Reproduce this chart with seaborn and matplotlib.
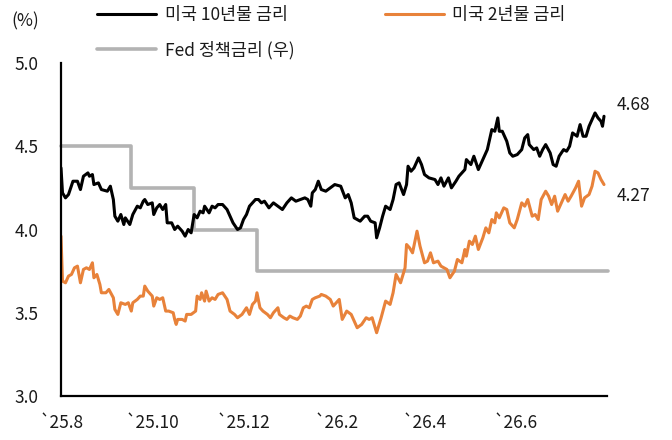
import numpy as np
import pandas as pd
import matplotlib
matplotlib.use('Agg')
import matplotlib.pyplot as plt
import seaborn as sns

# ---------------- data ----------------
start_date = '2025-08-01'

days_10y = [0, 1, 3, 5, 8, 11, 13, 15, 18, 19,
            21, 22, 25, 27, 31, 33, 35, 36, 38, 40,
            42, 43, 46, 48, 51, 53, 55, 56, 58, 61,
            62, 64, 66, 68, 70, 71, 74, 76, 78, 81,
            83, 85, 87, 89, 91, 93, 95, 96, 99, 101,
            103, 105, 108, 111, 113, 115, 118, 120, 122, 124,
            126, 130, 132, 134, 136, 139, 142, 145, 148, 151,
            154, 157, 160, 163, 165, 167, 168, 170, 172, 174,
            177, 180, 183, 187, 190, 192, 194, 196, 200, 203,
            205, 207, 210, 211, 213, 215, 217, 220, 222, 224,
            226, 229, 231, 232, 234, 236, 239, 241, 243, 246,
            250, 252, 254, 256, 259, 261, 264, 266, 270, 271,
            274, 276, 279, 282, 285, 288, 290, 292, 293, 295,
            298, 300, 302, 305, 308, 310, 312, 313, 316, 318,
            320, 322, 324, 327, 329, 331, 333, 336, 338, 340,
            342, 345, 347, 349, 351, 353, 357, 359, 361, 362,
            363]
yield_10y = [4.37, 4.22, 4.19, 4.21, 4.29, 4.29, 4.24, 4.32, 4.34, 4.32,
             4.33, 4.27, 4.28, 4.24, 4.23, 4.26, 4.18, 4.08, 4.05, 4.09,
             4.03, 4.07, 4.03, 4.09, 4.14, 4.13, 4.17, 4.18, 4.15, 4.16,
             4.09, 4.13, 4.15, 4.12, 4.15, 4.04, 4.04, 4.00, 4.02, 3.99,
             3.96, 4.00, 3.98, 4.09, 4.07, 4.11, 4.10, 4.14, 4.10, 4.14,
             4.13, 4.15, 4.15, 4.12, 4.08, 4.04, 4.00, 4.01, 4.06, 4.09,
             4.14, 4.18, 4.18, 4.16, 4.17, 4.13, 4.16, 4.14, 4.12, 4.16,
             4.19, 4.17, 4.18, 4.19, 4.18, 4.14, 4.22, 4.24, 4.29, 4.24,
             4.23, 4.25, 4.27, 4.26, 4.19, 4.21, 4.16, 4.07, 4.05, 4.08,
             4.08, 4.05, 4.04, 3.95, 4.01, 4.08, 4.14, 4.12, 4.18, 4.27,
             4.28, 4.21, 4.27, 4.38, 4.35, 4.37, 4.43, 4.39, 4.33, 4.31,
             4.30, 4.27, 4.31, 4.26, 4.31, 4.25, 4.29, 4.32, 4.36, 4.42,
             4.39, 4.44, 4.36, 4.42, 4.48, 4.60, 4.59, 4.67, 4.59, 4.59,
             4.53, 4.46, 4.44, 4.45, 4.48, 4.55, 4.57, 4.51, 4.48, 4.49,
             4.44, 4.48, 4.51, 4.46, 4.39, 4.38, 4.44, 4.48, 4.47, 4.50,
             4.58, 4.56, 4.63, 4.56, 4.56, 4.62, 4.70, 4.67, 4.65, 4.62,
             4.68]

days_2y = [0, 1, 3, 5, 7, 9, 11, 13, 15, 17,
           19, 21, 22, 24, 26, 27, 30, 32, 35, 36,
           38, 40, 43, 45, 47, 48, 51, 53, 55, 56,
           58, 61, 62, 64, 66, 68, 70, 72, 75, 76,
           77, 78, 81, 83, 84, 87, 90, 91, 93, 94,
           96, 97, 99, 101, 103, 105, 108, 111, 113, 116,
           118, 121, 124, 126, 128, 130, 131, 133, 135, 138,
           140, 142, 145, 146, 149, 151, 153, 155, 158, 160,
           162, 164, 166, 168, 170, 173, 174, 177, 180, 182,
           184, 186, 188, 191, 194, 196, 198, 201, 204, 206,
           208, 211, 214, 217, 220, 222, 224, 227, 230, 231,
           233, 235, 238, 240, 243, 245, 247, 249, 252, 254,
           258, 260, 263, 265, 268, 270, 271, 273, 275, 277,
           279, 282, 284, 286, 288, 290, 291, 293, 296, 298,
           300, 303, 305, 308, 310, 312, 315, 317, 319, 321,
           324, 326, 328, 330, 332, 335, 337, 339, 341, 344,
           346, 348, 350, 353, 355, 357, 359, 361, 363]
yield_2y = [3.96, 3.69, 3.68, 3.72, 3.73, 3.77, 3.78, 3.68, 3.76, 3.77,
            3.76, 3.80, 3.71, 3.73, 3.67, 3.62, 3.62, 3.64, 3.59, 3.52,
            3.49, 3.56, 3.55, 3.56, 3.51, 3.56, 3.58, 3.60, 3.60, 3.66,
            3.63, 3.60, 3.54, 3.59, 3.58, 3.59, 3.51, 3.51, 3.50, 3.46,
            3.43, 3.46, 3.46, 3.45, 3.49, 3.49, 3.51, 3.60, 3.58, 3.62,
            3.57, 3.63, 3.57, 3.59, 3.58, 3.61, 3.62, 3.58, 3.51, 3.49,
            3.47, 3.49, 3.53, 3.49, 3.55, 3.57, 3.62, 3.53, 3.51, 3.49,
            3.47, 3.50, 3.53, 3.49, 3.47, 3.46, 3.48, 3.47, 3.46, 3.48,
            3.53, 3.54, 3.53, 3.58, 3.59, 3.60, 3.61, 3.60, 3.58, 3.54,
            3.56, 3.58, 3.46, 3.51, 3.49, 3.45, 3.41, 3.43, 3.47, 3.46,
            3.47, 3.38, 3.47, 3.57, 3.55, 3.62, 3.73, 3.68, 3.77, 3.91,
            3.89, 3.86, 3.99, 3.90, 3.80, 3.81, 3.86, 3.80, 3.81, 3.78,
            3.76, 3.71, 3.75, 3.82, 3.80, 3.88, 3.84, 3.93, 3.91, 3.96,
            3.88, 3.95, 4.01, 3.98, 4.06, 4.04, 4.10, 4.07, 4.13, 4.12,
            4.04, 4.01, 4.06, 4.16, 4.14, 4.18, 4.08, 4.09, 4.06, 4.18,
            4.23, 4.20, 4.15, 4.20, 4.11, 4.17, 4.21, 4.17, 4.20, 4.25,
            4.29, 4.14, 4.19, 4.21, 4.26, 4.35, 4.34, 4.30, 4.27]

fed_dates = ['2025-08-01', '2025-09-17', '2025-10-29', '2025-12-10', '2026-08-02']
fed_rate = [4.50, 4.25, 4.00, 3.75, 3.75]

xtick_dates = ['2025-08-01', '2025-10-01', '2025-12-01', '2026-02-01',
               '2026-04-01', '2026-06-01', '2026-08-01']
xtick_labels = ['`25.8', '`25.10', '`25.12', '`26.2', '`26.4', '`26.6', '']
yticks = [3.0, 3.5, 4.0, 4.5, 5.0]

label_10y = '미국 10년물 금리'
label_2y = '미국 2년물 금리'
label_fed = 'Fed 정책금리 (우)'
unit_label = '(%)'

# ---------------- frames ----------------
t0 = pd.Timestamp(start_date)
df10 = pd.DataFrame({'date': t0 + pd.to_timedelta(days_10y, unit='D'), 'rate': yield_10y})
df2 = pd.DataFrame({'date': t0 + pd.to_timedelta(days_2y, unit='D'), 'rate': yield_2y})
dff = pd.DataFrame({'date': pd.to_datetime(fed_dates), 'rate': fed_rate})

# ---------------- style ----------------
sns.set_style('white')
plt.rcParams['font.family'] = ['Noto Sans CJK KR', 'DejaVu Sans']
plt.rcParams['text.color'] = '#1a1a1a'

FS = 12.5
C10 = '#000000'
C2 = '#E8823A'
CF = '#B3B3B3'

fig = plt.figure(figsize=(6.72, 4.4), dpi=100)
ax = fig.add_axes([61 / 672, 44 / 440, 546 / 672, 333 / 440])

sns.lineplot(data=dff, x='date', y='rate', ax=ax, color=CF, lw=2.6,
             drawstyle='steps-post', estimator=None, label=label_fed,
             zorder=1, clip_on=False)
sns.lineplot(data=df2, x='date', y='rate', ax=ax, color=C2, lw=2.2,
             estimator=None, label=label_2y, zorder=2)
sns.lineplot(data=df10, x='date', y='rate', ax=ax, color=C10, lw=2.2,
             estimator=None, label=label_10y, zorder=3)

ax.set_xlim(t0, pd.Timestamp('2026-08-01'))
ax.set_ylim(3.0, 5.0)
ax.set_yticks(yticks)
ax.set_yticklabels([f'{v:.1f}' for v in yticks])
ax.set_xticks(pd.to_datetime(xtick_dates))
ax.set_xticklabels(xtick_labels)
ax.set_xlabel('')
ax.set_ylabel('')

for s in ['top', 'right']:
    ax.spines[s].set_visible(False)
for s in ['left', 'bottom']:
    ax.spines[s].set_color('black')
    ax.spines[s].set_linewidth(1.6)

ax.tick_params(axis='both', direction='in', length=5, width=1.5, color='black',
               labelsize=FS, labelcolor='#1a1a1a')
ax.tick_params(axis='y', pad=16)
ax.tick_params(axis='x', pad=13)

# end labels
ax.annotate(f'{yield_10y[-1]:.2f}', xy=(df10['date'].iloc[-1], yield_10y[-1]),
            xytext=(9, 8), textcoords='offset points', ha='left', va='center',
            fontsize=FS, annotation_clip=False)
ax.annotate(f'{yield_2y[-1]:.2f}', xy=(df2['date'].iloc[-1], yield_2y[-1]),
            xytext=(9, -8), textcoords='offset points', ha='left', va='center',
            fontsize=FS, annotation_clip=False)

fig.text(25.5 / 672, 1 - 21 / 440, unit_label, ha='center', va='center', fontsize=FS)

# legend
h, l = ax.get_legend_handles_labels()
lut = dict(zip(l, h))
order = [label_10y, label_fed, label_2y]
ax.legend([lut[k] for k in order], order, ncol=2, loc='upper left',
          bbox_to_anchor=(97 / 672, 1 - 6 / 440), bbox_transform=fig.transFigure,
          frameon=False, fontsize=FS, handlelength=3.4, handletextpad=0.5,
          columnspacing=5.2, labelspacing=0.95, borderpad=0, borderaxespad=0)

fig.savefig('out.png', dpi=100)
